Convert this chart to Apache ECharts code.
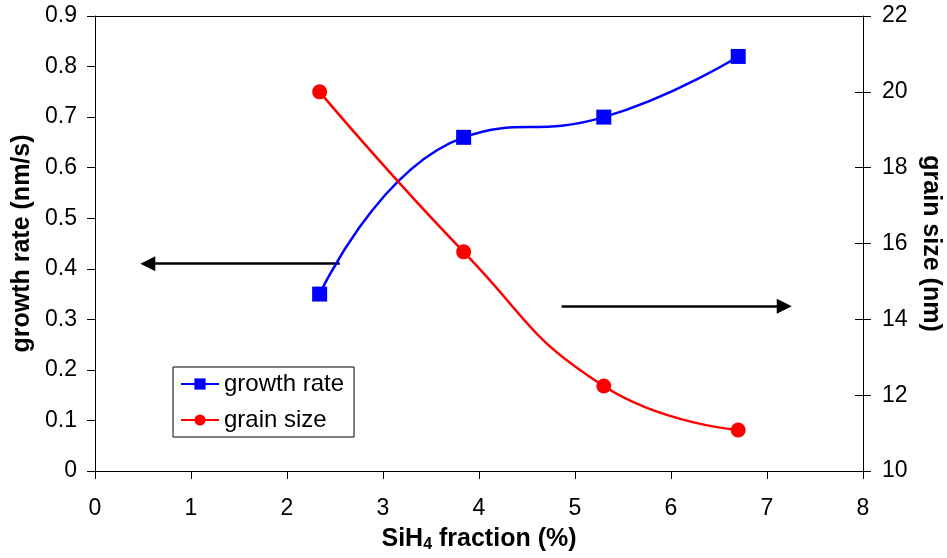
<!DOCTYPE html>
<html>
<head>
<meta charset="utf-8">
<script src="https://cdn.jsdelivr.net/npm/echarts@6/dist/echarts.min.js"></script>
<style>html,body{margin:0;padding:0;background:#fff}#c{width:947px;height:558px}</style>
</head>
<body>
<div id="c"></div>
<script>
var sih4Fraction = [2.34, 3.84, 5.30, 6.70];
var growthRate = [0.35, 0.66, 0.70, 0.82];
var grainSize = [20.0, 15.78, 12.24, 11.08];
var xTicks = [0, 1, 2, 3, 4, 5, 6, 7, 8];
var leftTicks = [0, 0.1, 0.2, 0.3, 0.4, 0.5, 0.6, 0.7, 0.8, 0.9];
var rightTicks = [10, 12, 14, 16, 18, 20, 22];
var arrowLeft = [[2.55, 0.41], [0.55, 0.41]];
var arrowRight = [[4.86, 0.326], [7.18, 0.326]];

var FONT = 'Liberation Sans, Arial, sans-serif';
var chart = echarts.init(document.getElementById('c'), null, {renderer: 'canvas'});
function pairs(xs, ys) { return xs.map(function (x, i) { return [x, ys[i]]; }); }

var axisLine = {show: true, onZero: false, lineStyle: {color: '#000', width: 1}};
var option = {
  backgroundColor: '#fff',
  animation: false,
  textStyle: {fontFamily: FONT},
  grid: {left: 95, right: 84, top: 16, bottom: 87, containLabel: false, outerBoundsMode: 'none'},
  legend: {
    orient: 'vertical', left: 173, top: 367,
    data: ['growth rate', 'grain size'],
    backgroundColor: '#fff', borderColor: '#000', borderWidth: 1,
    padding: [5, 10, 5, 7], itemGap: 12, itemWidth: 38, itemHeight: 14,
    textStyle: {fontSize: 24, color: '#000', fontFamily: FONT}
  },
  xAxis: [{
    type: 'value', min: xTicks[0], max: xTicks[xTicks.length - 1], interval: 1,
    axisLine: axisLine, splitLine: {show: false},
    axisTick: {show: true, length: 8, lineStyle: {color: '#000'}},
    axisLabel: {fontSize: 23, color: '#000', margin: 26, fontFamily: FONT},
    name: '{a|SiH}{s|4}{a| fraction (%)}', nameLocation: 'middle', nameGap: 54,
    nameTextStyle: {
      rich: {
        a: {fontSize: 25, fontWeight: 'bold', color: '#000', fontFamily: FONT},
        s: {fontSize: 16, fontWeight: 'bold', color: '#000', fontFamily: FONT, padding: [12, 0, 0, 0]}
      }
    }
  }, {
    type: 'value', position: 'top', min: 0, max: 8,
    axisLine: axisLine, axisTick: {show: false}, axisLabel: {show: false}, splitLine: {show: false}
  }],
  yAxis: [{
    type: 'value', position: 'left', min: leftTicks[0], max: leftTicks[leftTicks.length - 1], interval: 0.1,
    axisLine: axisLine, splitLine: {show: false},
    axisTick: {show: true, length: 8, lineStyle: {color: '#000'}},
    axisLabel: {fontSize: 23, color: '#000', margin: 18, fontFamily: FONT,
      formatter: function (v) { return v === 0 ? '0' : v.toFixed(1); }},
    name: 'growth rate (nm/s)', nameLocation: 'middle', nameGap: 60, nameRotate: 90,
    nameTextStyle: {fontSize: 25, fontWeight: 'bold', color: '#000', fontFamily: FONT}
  }, {
    type: 'value', position: 'right', min: rightTicks[0], max: rightTicks[rightTicks.length - 1], interval: 2,
    axisLine: axisLine, splitLine: {show: false},
    axisTick: {show: true, length: 8, lineStyle: {color: '#000'}},
    axisLabel: {fontSize: 23, color: '#000', margin: 19, fontFamily: FONT},
    name: 'grain size (nm)', nameLocation: 'middle', nameGap: 55, nameRotate: -90,
    nameTextStyle: {fontSize: 25, fontWeight: 'bold', color: '#000', fontFamily: FONT}
  }, {
    type: 'value', position: 'right', min: 10, max: 22, interval: 2,
    axisLine: {show: false, onZero: false}, splitLine: {show: false}, axisLabel: {show: false},
    axisTick: {show: true, inside: true, length: 8, lineStyle: {color: '#000'}}
  }],
  series: [{
    name: 'growth rate', type: 'line', xAxisIndex: 0, yAxisIndex: 0,
    data: pairs(sih4Fraction, growthRate), smooth: 0.5,
    symbol: 'rect', symbolSize: 15,
    lineStyle: {color: '#0000ff', width: 2.5}, itemStyle: {color: '#0000ff'}, z: 3
  }, {
    name: 'grain size', type: 'line', xAxisIndex: 0, yAxisIndex: 1,
    data: pairs(sih4Fraction, grainSize), smooth: 0.5,
    symbol: 'circle', symbolSize: 15,
    lineStyle: {color: '#ff0000', width: 2.5}, itemStyle: {color: '#ff0000'}, z: 3
  }, {
    name: 'arrows', type: 'lines', coordinateSystem: 'cartesian2d', xAxisIndex: 0, yAxisIndex: 0,
    data: [{coords: arrowLeft}, {coords: arrowRight}],
    symbol: ['none', 'triangle'], symbolSize: 15,
    lineStyle: {color: '#000', width: 2.5, opacity: 1, curveness: 0}, z: 2
  }]
};
chart.setOption(option);
</script>
</body>
</html>
